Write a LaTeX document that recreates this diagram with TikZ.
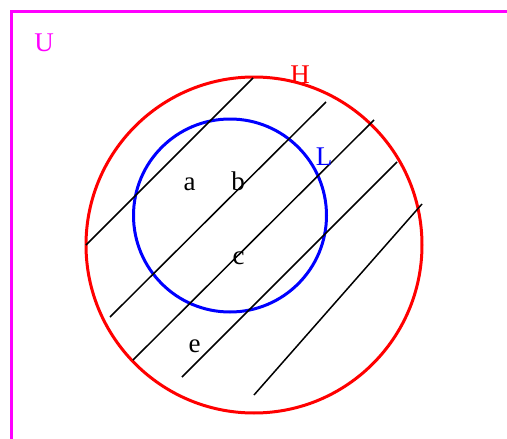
\documentclass[tikz,border=0pt]{standalone}
\usepackage{fontspec}
\setmainfont{Liberation Serif}
\definecolor{umag}{RGB}{255,0,255}
\definecolor{hred}{RGB}{255,0,0}
\definecolor{lblue}{RGB}{0,0,255}
\begin{document}
\begin{tikzpicture}[x=1pt,y=-1pt,
  lbl/.style={anchor=base,inner sep=0pt,font=\fontsize{27}{27}\selectfont},
  hatch/.style={draw=black,line width=1.5pt}]
\useasboundingbox (0,0) rectangle (507,439);
% universe frame
\draw[umag,line width=3pt] (507,11) -- (11.5,11) -- (11.5,439);
% circles
\draw[hred,line width=3pt] (254,245) circle[radius=168];
\draw[lblue,line width=3pt] (230,215.5) circle[radius=96.5];
% hatch lines
\draw[hatch] (86,245) -- (253,78);
\draw[hatch] (110,317) -- (326,102);
\draw[hatch] (133,360) -- (374,120);
\draw[hatch] (182,377) -- (397,162);
\draw[hatch] (254,395) -- (422,204);
% labels
\node[lbl,umag] (U) at (44,52) {U};
\node[lbl,hred] (H) at (300,83) {H};
\node[lbl,lblue] (L) at (324,165) {L};
\node[lbl] (a) at (189.5,190) {a};
\node[lbl] (b) at (238,190) {b};
\node[lbl] (c) at (238.5,264) {c};
\node[lbl] (e) at (194.5,352) {e};
\end{tikzpicture}
\end{document}
